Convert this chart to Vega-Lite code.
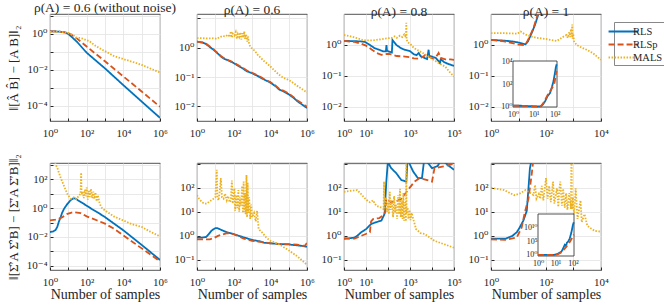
{
"$schema":"https://vega.github.io/schema/vega-lite/v6.json",
"padding":{"left":6,"top":0,"right":2,"bottom":2},
"background":"white",
"data":{"values":[
{"p":"1","m":"RLS","n":1,"v":1.4},{"p":"1","m":"RLS","n":2,"v":1.38},{"p":"1","m":"RLS","n":4,"v":1.32},{"p":"1","m":"RLS","n":7,"v":1.2},{"p":"1","m":"RLS","n":10,"v":1.0},{"p":"1","m":"RLS","n":15,"v":0.7},{"p":"1","m":"RLS","n":30,"v":0.36},{"p":"1","m":"RLS","n":100,"v":0.09},{"p":"1","m":"RLS","n":1000,"v":0.012},{"p":"1","m":"RLS","n":1e4,"v":0.0014},{"p":"1","m":"RLS","n":1e5,"v":0.00017},{"p":"1","m":"RLS","n":1e6,"v":0.000021},
{"p":"1","m":"RLSp","n":1,"v":1.4},{"p":"1","m":"RLSp","n":2,"v":1.38},{"p":"1","m":"RLSp","n":4,"v":1.32},{"p":"1","m":"RLSp","n":7,"v":1.22},{"p":"1","m":"RLSp","n":10,"v":1.1},{"p":"1","m":"RLSp","n":15,"v":0.9},{"p":"1","m":"RLSp","n":30,"v":0.55},{"p":"1","m":"RLSp","n":100,"v":0.2},{"p":"1","m":"RLSp","n":300,"v":0.08},{"p":"1","m":"RLSp","n":1000,"v":0.03},{"p":"1","m":"RLSp","n":1e4,"v":0.0043},{"p":"1","m":"RLSp","n":1e5,"v":0.00062},{"p":"1","m":"RLSp","n":1e6,"v":0.000087},
{"p":"1","m":"MALS","n":1,"v":1.3},{"p":"1","m":"MALS","n":2,"v":1.35},{"p":"1","m":"MALS","n":4,"v":1.3},{"p":"1","m":"MALS","n":7,"v":1.25},{"p":"1","m":"MALS","n":10,"v":1.15},{"p":"1","m":"MALS","n":15,"v":0.95},{"p":"1","m":"MALS","n":20,"v":0.8},{"p":"1","m":"MALS","n":25,"v":0.65},{"p":"1","m":"MALS","n":30,"v":0.62},{"p":"1","m":"MALS","n":45,"v":0.6},{"p":"1","m":"MALS","n":60,"v":0.55},{"p":"1","m":"MALS","n":100,"v":0.45},{"p":"1","m":"MALS","n":150,"v":0.38},{"p":"1","m":"MALS","n":200,"v":0.3},{"p":"1","m":"MALS","n":300,"v":0.22},{"p":"1","m":"MALS","n":500,"v":0.16},{"p":"1","m":"MALS","n":1000,"v":0.11},{"p":"1","m":"MALS","n":2000,"v":0.075},{"p":"1","m":"MALS","n":3000,"v":0.06},{"p":"1","m":"MALS","n":5000,"v":0.05},{"p":"1","m":"MALS","n":1e4,"v":0.04},{"p":"1","m":"MALS","n":2e4,"v":0.032},{"p":"1","m":"MALS","n":5e4,"v":0.024},{"p":"1","m":"MALS","n":1e5,"v":0.019},{"p":"1","m":"MALS","n":2e5,"v":0.014},{"p":"1","m":"MALS","n":5e5,"v":0.0095},{"p":"1","m":"MALS","n":1e6,"v":0.0072},

{"p":"2","m":"RLS","n":1,"v":1.6},{"p":"2","m":"RLS","n":2,"v":1.5},{"p":"2","m":"RLS","n":3,"v":1.35},{"p":"2","m":"RLS","n":5,"v":1.05},{"p":"2","m":"RLS","n":8,"v":0.85},{"p":"2","m":"RLS","n":10,"v":0.75},{"p":"2","m":"RLS","n":15,"v":0.6},{"p":"2","m":"RLS","n":20,"v":0.5},{"p":"2","m":"RLS","n":30,"v":0.42},{"p":"2","m":"RLS","n":50,"v":0.37},{"p":"2","m":"RLS","n":100,"v":0.3},{"p":"2","m":"RLS","n":200,"v":0.23},{"p":"2","m":"RLS","n":300,"v":0.2},{"p":"2","m":"RLS","n":500,"v":0.16},{"p":"2","m":"RLS","n":1000,"v":0.135},{"p":"2","m":"RLS","n":2000,"v":0.11},{"p":"2","m":"RLS","n":3000,"v":0.095},{"p":"2","m":"RLS","n":5000,"v":0.08},{"p":"2","m":"RLS","n":1e4,"v":0.065},{"p":"2","m":"RLS","n":2e4,"v":0.048},{"p":"2","m":"RLS","n":3e4,"v":0.038},{"p":"2","m":"RLS","n":5e4,"v":0.033},{"p":"2","m":"RLS","n":1e5,"v":0.026},{"p":"2","m":"RLS","n":2e5,"v":0.019},{"p":"2","m":"RLS","n":3e5,"v":0.015},{"p":"2","m":"RLS","n":5e5,"v":0.012},{"p":"2","m":"RLS","n":1e6,"v":0.0088},
{"p":"2","m":"RLSp","n":1,"v":1.6},{"p":"2","m":"RLSp","n":2,"v":1.5},{"p":"2","m":"RLSp","n":3,"v":1.4},{"p":"2","m":"RLSp","n":5,"v":1.1},{"p":"2","m":"RLSp","n":8,"v":0.88},{"p":"2","m":"RLSp","n":10,"v":0.78},{"p":"2","m":"RLSp","n":15,"v":0.62},{"p":"2","m":"RLSp","n":20,"v":0.52},{"p":"2","m":"RLSp","n":30,"v":0.44},{"p":"2","m":"RLSp","n":50,"v":0.38},{"p":"2","m":"RLSp","n":100,"v":0.31},{"p":"2","m":"RLSp","n":200,"v":0.24},{"p":"2","m":"RLSp","n":300,"v":0.21},{"p":"2","m":"RLSp","n":500,"v":0.17},{"p":"2","m":"RLSp","n":1000,"v":0.14},{"p":"2","m":"RLSp","n":2000,"v":0.115},{"p":"2","m":"RLSp","n":3000,"v":0.1},{"p":"2","m":"RLSp","n":5000,"v":0.083},{"p":"2","m":"RLSp","n":1e4,"v":0.068},{"p":"2","m":"RLSp","n":2e4,"v":0.05},{"p":"2","m":"RLSp","n":3e4,"v":0.04},{"p":"2","m":"RLSp","n":5e4,"v":0.035},{"p":"2","m":"RLSp","n":1e5,"v":0.028},{"p":"2","m":"RLSp","n":2e5,"v":0.02},{"p":"2","m":"RLSp","n":3e5,"v":0.016},{"p":"2","m":"RLSp","n":5e5,"v":0.013},{"p":"2","m":"RLSp","n":1e6,"v":0.0098},
{"p":"2","m":"MALS","n":1,"v":2.1},{"p":"2","m":"MALS","n":2,"v":2.1},{"p":"2","m":"MALS","n":4,"v":2.05},{"p":"2","m":"MALS","n":8,"v":2.1},{"p":"2","m":"MALS","n":12,"v":2.0},{"p":"2","m":"MALS","n":18,"v":2.3},{"p":"2","m":"MALS","n":25,"v":2.5},{"p":"2","m":"MALS","n":35,"v":2.4},{"p":"2","m":"MALS","n":50,"v":2.8},{"p":"2","m":"MALS","n":60,"v":2.3},{"p":"2","m":"MALS","n":70,"v":3.6},{"p":"2","m":"MALS","n":80,"v":2.2},{"p":"2","m":"MALS","n":90,"v":3.0},{"p":"2","m":"MALS","n":110,"v":2.6},{"p":"2","m":"MALS","n":130,"v":3.4},{"p":"2","m":"MALS","n":150,"v":2.0},{"p":"2","m":"MALS","n":170,"v":2.9},{"p":"2","m":"MALS","n":200,"v":2.3},{"p":"2","m":"MALS","n":230,"v":3.3},{"p":"2","m":"MALS","n":260,"v":1.9},{"p":"2","m":"MALS","n":300,"v":3.1},{"p":"2","m":"MALS","n":340,"v":2.2},{"p":"2","m":"MALS","n":380,"v":3.6},{"p":"2","m":"MALS","n":420,"v":2.0},{"p":"2","m":"MALS","n":480,"v":2.8},{"p":"2","m":"MALS","n":550,"v":1.6},{"p":"2","m":"MALS","n":600,"v":2.4},{"p":"2","m":"MALS","n":700,"v":1.3},{"p":"2","m":"MALS","n":800,"v":1.1},{"p":"2","m":"MALS","n":1000,"v":0.95},{"p":"2","m":"MALS","n":1500,"v":0.75},{"p":"2","m":"MALS","n":2000,"v":0.58},{"p":"2","m":"MALS","n":3000,"v":0.45},{"p":"2","m":"MALS","n":5000,"v":0.33},{"p":"2","m":"MALS","n":7000,"v":0.28},{"p":"2","m":"MALS","n":1e4,"v":0.23},{"p":"2","m":"MALS","n":2e4,"v":0.15},{"p":"2","m":"MALS","n":3e4,"v":0.12},{"p":"2","m":"MALS","n":5e4,"v":0.095},{"p":"2","m":"MALS","n":1e5,"v":0.08},{"p":"2","m":"MALS","n":2e5,"v":0.06},{"p":"2","m":"MALS","n":3e5,"v":0.05},{"p":"2","m":"MALS","n":5e5,"v":0.04},{"p":"2","m":"MALS","n":1e6,"v":0.03},

{"p":"3","m":"RLS","n":1,"v":1.35},{"p":"3","m":"RLS","n":3,"v":1.33},{"p":"3","m":"RLS","n":6,"v":1.3},{"p":"3","m":"RLS","n":9,"v":1.25},{"p":"3","m":"RLS","n":15,"v":1.0},{"p":"3","m":"RLS","n":25,"v":0.78},{"p":"3","m":"RLS","n":40,"v":0.7},{"p":"3","m":"RLS","n":60,"v":0.62},{"p":"3","m":"RLS","n":80,"v":0.62},{"p":"3","m":"RLS","n":85,"v":1.0},{"p":"3","m":"RLS","n":90,"v":0.65},{"p":"3","m":"RLS","n":120,"v":0.6},{"p":"3","m":"RLS","n":150,"v":0.57},{"p":"3","m":"RLS","n":160,"v":1.45},{"p":"3","m":"RLS","n":180,"v":1.3},{"p":"3","m":"RLS","n":240,"v":1.0},{"p":"3","m":"RLS","n":400,"v":0.78},{"p":"3","m":"RLS","n":600,"v":0.69},{"p":"3","m":"RLS","n":1000,"v":0.63},{"p":"3","m":"RLS","n":1500,"v":0.5},{"p":"3","m":"RLS","n":2000,"v":0.47},{"p":"3","m":"RLS","n":2500,"v":0.55},{"p":"3","m":"RLS","n":3000,"v":0.44},{"p":"3","m":"RLS","n":5000,"v":0.37},{"p":"3","m":"RLS","n":6000,"v":0.35},{"p":"3","m":"RLS","n":7000,"v":0.7},{"p":"3","m":"RLS","n":7500,"v":0.45},{"p":"3","m":"RLS","n":1e4,"v":0.42},{"p":"3","m":"RLS","n":1.5e4,"v":0.38},{"p":"3","m":"RLS","n":2e4,"v":0.3},{"p":"3","m":"RLS","n":2.3e4,"v":0.26},{"p":"3","m":"RLS","n":2.5e4,"v":0.35},{"p":"3","m":"RLS","n":3.5e4,"v":0.28},{"p":"3","m":"RLS","n":5e4,"v":0.25},{"p":"3","m":"RLS","n":1e5,"v":0.21},
{"p":"3","m":"RLSp","n":1,"v":1.35},{"p":"3","m":"RLSp","n":3,"v":1.25},{"p":"3","m":"RLSp","n":6,"v":1.1},{"p":"3","m":"RLSp","n":10,"v":0.95},{"p":"3","m":"RLSp","n":20,"v":0.68},{"p":"3","m":"RLSp","n":30,"v":0.55},{"p":"3","m":"RLSp","n":50,"v":0.48},{"p":"3","m":"RLSp","n":70,"v":0.5},{"p":"3","m":"RLSp","n":100,"v":0.52},{"p":"3","m":"RLSp","n":150,"v":0.49},{"p":"3","m":"RLSp","n":250,"v":0.44},{"p":"3","m":"RLSp","n":400,"v":0.43},{"p":"3","m":"RLSp","n":600,"v":0.42},{"p":"3","m":"RLSp","n":1000,"v":0.4},{"p":"3","m":"RLSp","n":1500,"v":0.37},{"p":"3","m":"RLSp","n":2500,"v":0.36},{"p":"3","m":"RLSp","n":4000,"v":0.42},{"p":"3","m":"RLSp","n":5000,"v":0.48},{"p":"3","m":"RLSp","n":7000,"v":0.43},{"p":"3","m":"RLSp","n":1e4,"v":0.37},{"p":"3","m":"RLSp","n":1.5e4,"v":0.4},{"p":"3","m":"RLSp","n":2e4,"v":0.55},{"p":"3","m":"RLSp","n":2.5e4,"v":0.38},{"p":"3","m":"RLSp","n":4e4,"v":0.34},{"p":"3","m":"RLSp","n":7e4,"v":0.34},{"p":"3","m":"RLSp","n":1e5,"v":0.33},
{"p":"3","m":"MALS","n":1,"v":2.1},{"p":"3","m":"MALS","n":2,"v":1.9},{"p":"3","m":"MALS","n":4,"v":1.65},{"p":"3","m":"MALS","n":7,"v":1.45},{"p":"3","m":"MALS","n":10,"v":1.4},{"p":"3","m":"MALS","n":20,"v":1.4},{"p":"3","m":"MALS","n":40,"v":1.5},{"p":"3","m":"MALS","n":70,"v":1.6},{"p":"3","m":"MALS","n":100,"v":1.65},{"p":"3","m":"MALS","n":150,"v":1.7},{"p":"3","m":"MALS","n":200,"v":1.9},{"p":"3","m":"MALS","n":250,"v":1.7},{"p":"3","m":"MALS","n":350,"v":2.0},{"p":"3","m":"MALS","n":450,"v":1.8},{"p":"3","m":"MALS","n":550,"v":2.2},{"p":"3","m":"MALS","n":650,"v":1.8},{"p":"3","m":"MALS","n":680,"v":5.2},{"p":"3","m":"MALS","n":700,"v":1.5},{"p":"3","m":"MALS","n":800,"v":1.2},{"p":"3","m":"MALS","n":1000,"v":1.1},{"p":"3","m":"MALS","n":1500,"v":0.8},{"p":"3","m":"MALS","n":2500,"v":0.65},{"p":"3","m":"MALS","n":4000,"v":0.54},{"p":"3","m":"MALS","n":7000,"v":0.42},{"p":"3","m":"MALS","n":1.2e4,"v":0.33},{"p":"3","m":"MALS","n":2e4,"v":0.26},{"p":"3","m":"MALS","n":4e4,"v":0.2},{"p":"3","m":"MALS","n":6e4,"v":0.14},{"p":"3","m":"MALS","n":1e5,"v":0.095},

{"p":"4","m":"RLS","n":1,"v":1.45},{"p":"4","m":"RLS","n":3,"v":1.38},{"p":"4","m":"RLS","n":6,"v":1.3},{"p":"4","m":"RLS","n":10,"v":1.2},{"p":"4","m":"RLS","n":15,"v":1.08},{"p":"4","m":"RLS","n":18,"v":1.05},{"p":"4","m":"RLS","n":22,"v":1.3},{"p":"4","m":"RLS","n":30,"v":2.4},{"p":"4","m":"RLS","n":40,"v":4.5},{"p":"4","m":"RLS","n":48,"v":7.5},{"p":"4","m":"RLS","n":60,"v":14},{"p":"4","m":"RLS","n":80,"v":40},{"p":"4","m":"RLS","n":100,"v":200},{"p":"4","m":"RLS","n":120,"v":2000},
{"p":"4","m":"RLSp","n":1,"v":1.45},{"p":"4","m":"RLSp","n":3,"v":1.3},{"p":"4","m":"RLSp","n":6,"v":1.15},{"p":"4","m":"RLSp","n":10,"v":1.02},{"p":"4","m":"RLSp","n":15,"v":1.0},{"p":"4","m":"RLSp","n":20,"v":1.2},{"p":"4","m":"RLSp","n":27,"v":2.1},{"p":"4","m":"RLSp","n":35,"v":3.5},{"p":"4","m":"RLSp","n":46,"v":7.7},{"p":"4","m":"RLSp","n":55,"v":12},{"p":"4","m":"RLSp","n":80,"v":50},{"p":"4","m":"RLSp","n":100,"v":150},{"p":"4","m":"RLSp","n":120,"v":700},
{"p":"4","m":"MALS","n":1,"v":2.4},{"p":"4","m":"MALS","n":3,"v":2.4},{"p":"4","m":"MALS","n":6,"v":2.35},{"p":"4","m":"MALS","n":9,"v":2.3},{"p":"4","m":"MALS","n":12,"v":2.7},{"p":"4","m":"MALS","n":16,"v":2.3},{"p":"4","m":"MALS","n":22,"v":2.0},{"p":"4","m":"MALS","n":30,"v":1.86},{"p":"4","m":"MALS","n":45,"v":1.7},{"p":"4","m":"MALS","n":70,"v":1.62},{"p":"4","m":"MALS","n":100,"v":1.56},{"p":"4","m":"MALS","n":150,"v":1.45},{"p":"4","m":"MALS","n":245,"v":1.35},{"p":"4","m":"MALS","n":300,"v":1.5},{"p":"4","m":"MALS","n":370,"v":1.7},{"p":"4","m":"MALS","n":450,"v":1.9},{"p":"4","m":"MALS","n":560,"v":2.1},{"p":"4","m":"MALS","n":620,"v":1.7},{"p":"4","m":"MALS","n":700,"v":2.6},{"p":"4","m":"MALS","n":760,"v":1.8},{"p":"4","m":"MALS","n":820,"v":3.3},{"p":"4","m":"MALS","n":860,"v":1.9},{"p":"4","m":"MALS","n":900,"v":4.6},{"p":"4","m":"MALS","n":930,"v":1.6},{"p":"4","m":"MALS","n":980,"v":2.3},{"p":"4","m":"MALS","n":1050,"v":1.3},{"p":"4","m":"MALS","n":1300,"v":1.0},{"p":"4","m":"MALS","n":2000,"v":0.82},{"p":"4","m":"MALS","n":3000,"v":0.7},{"p":"4","m":"MALS","n":5000,"v":0.55},{"p":"4","m":"MALS","n":1e4,"v":0.33},

{"p":"4i","m":"RLS","n":1,"v":1.2},{"p":"4i","m":"RLS","n":3,"v":1.15},{"p":"4i","m":"RLS","n":8,"v":1.05},{"p":"4i","m":"RLS","n":15,"v":1.0},{"p":"4i","m":"RLS","n":22,"v":1.05},{"p":"4i","m":"RLS","n":28,"v":1.6},{"p":"4i","m":"RLS","n":35,"v":3},{"p":"4i","m":"RLS","n":45,"v":8},{"p":"4i","m":"RLS","n":61,"v":17},{"p":"4i","m":"RLS","n":75,"v":60},{"p":"4i","m":"RLS","n":89,"v":200},{"p":"4i","m":"RLS","n":100,"v":700},{"p":"4i","m":"RLS","n":115,"v":3500},{"p":"4i","m":"RLS","n":125,"v":6000},
{"p":"4i","m":"RLSp","n":1,"v":1.2},{"p":"4i","m":"RLSp","n":3,"v":1.15},{"p":"4i","m":"RLSp","n":8,"v":1.05},{"p":"4i","m":"RLSp","n":15,"v":1.0},{"p":"4i","m":"RLSp","n":22,"v":1.1},{"p":"4i","m":"RLSp","n":28,"v":1.9},{"p":"4i","m":"RLSp","n":35,"v":4},{"p":"4i","m":"RLSp","n":45,"v":10},{"p":"4i","m":"RLSp","n":61,"v":24},{"p":"4i","m":"RLSp","n":75,"v":45},{"p":"4i","m":"RLSp","n":89,"v":70},{"p":"4i","m":"RLSp","n":100,"v":150},{"p":"4i","m":"RLSp","n":115,"v":800},{"p":"4i","m":"RLSp","n":125,"v":1500},

{"p":"5","m":"RLS","n":1,"v":0.022},{"p":"5","m":"RLS","n":1.5,"v":0.024},{"p":"5","m":"RLS","n":2,"v":0.03},{"p":"5","m":"RLS","n":2.5,"v":0.05},{"p":"5","m":"RLS","n":3,"v":0.11},{"p":"5","m":"RLS","n":3.8,"v":0.24},{"p":"5","m":"RLS","n":4.5,"v":0.45},{"p":"5","m":"RLS","n":5.8,"v":0.9},{"p":"5","m":"RLS","n":8.9,"v":2.0},{"p":"5","m":"RLS","n":13.5,"v":3.7},{"p":"5","m":"RLS","n":20,"v":4.9},{"p":"5","m":"RLS","n":25,"v":4.6},{"p":"5","m":"RLS","n":32,"v":3.7},{"p":"5","m":"RLS","n":50,"v":2.6},{"p":"5","m":"RLS","n":100,"v":1.5},{"p":"5","m":"RLS","n":200,"v":0.85},{"p":"5","m":"RLS","n":380,"v":0.53},{"p":"5","m":"RLS","n":1000,"v":0.24},{"p":"5","m":"RLS","n":1e4,"v":0.029},{"p":"5","m":"RLS","n":1e5,"v":0.0028},{"p":"5","m":"RLS","n":1e6,"v":0.00025},
{"p":"5","m":"RLSp","n":1,"v":0.14},{"p":"5","m":"RLSp","n":2,"v":0.16},{"p":"5","m":"RLSp","n":3,"v":0.18},{"p":"5","m":"RLSp","n":5,"v":0.25},{"p":"5","m":"RLSp","n":9,"v":0.41},{"p":"5","m":"RLSp","n":15,"v":0.5},{"p":"5","m":"RLSp","n":20,"v":0.53},{"p":"5","m":"RLSp","n":30,"v":0.5},{"p":"5","m":"RLSp","n":47,"v":0.45},{"p":"5","m":"RLSp","n":100,"v":0.27},{"p":"5","m":"RLSp","n":380,"v":0.14},{"p":"5","m":"RLSp","n":1000,"v":0.084},{"p":"5","m":"RLSp","n":3000,"v":0.038},{"p":"5","m":"RLSp","n":1e4,"v":0.013},{"p":"5","m":"RLSp","n":1e5,"v":0.0016},{"p":"5","m":"RLSp","n":1e6,"v":0.0002},
{"p":"5","m":"MALS","n":1.9,"v":1500},{"p":"5","m":"MALS","n":2.1,"v":1000},{"p":"5","m":"MALS","n":2.5,"v":650},{"p":"5","m":"MALS","n":3.8,"v":134},{"p":"5","m":"MALS","n":5.8,"v":36},{"p":"5","m":"MALS","n":8.9,"v":9.6},{"p":"5","m":"MALS","n":13.5,"v":4.4},{"p":"5","m":"MALS","n":20,"v":5.7},{"p":"5","m":"MALS","n":27,"v":4.4},{"p":"5","m":"MALS","n":40,"v":8},{"p":"5","m":"MALS","n":46,"v":10},{"p":"5","m":"MALS","n":50,"v":300},{"p":"5","m":"MALS","n":53,"v":9},{"p":"5","m":"MALS","n":60,"v":14},{"p":"5","m":"MALS","n":70,"v":5},{"p":"5","m":"MALS","n":80,"v":20},{"p":"5","m":"MALS","n":90,"v":7},{"p":"5","m":"MALS","n":100,"v":28},{"p":"5","m":"MALS","n":115,"v":4},{"p":"5","m":"MALS","n":130,"v":16},{"p":"5","m":"MALS","n":150,"v":6},{"p":"5","m":"MALS","n":170,"v":22},{"p":"5","m":"MALS","n":200,"v":5},{"p":"5","m":"MALS","n":230,"v":14},{"p":"5","m":"MALS","n":260,"v":4.5},{"p":"5","m":"MALS","n":300,"v":12.5},{"p":"5","m":"MALS","n":350,"v":3},{"p":"5","m":"MALS","n":400,"v":8},{"p":"5","m":"MALS","n":500,"v":2.5},{"p":"5","m":"MALS","n":575,"v":1.5},{"p":"5","m":"MALS","n":700,"v":1.0},{"p":"5","m":"MALS","n":1000,"v":0.7},{"p":"5","m":"MALS","n":3000,"v":0.27},{"p":"5","m":"MALS","n":1e4,"v":0.14},{"p":"5","m":"MALS","n":3e4,"v":0.076},{"p":"5","m":"MALS","n":1e5,"v":0.05},{"p":"5","m":"MALS","n":3e5,"v":0.023},{"p":"5","m":"MALS","n":1e6,"v":0.011},

{"p":"6","m":"RLS","n":1,"v":0.85},{"p":"6","m":"RLS","n":2,"v":0.85},{"p":"6","m":"RLS","n":3.2,"v":0.9},{"p":"6","m":"RLS","n":4.4,"v":1.18},{"p":"6","m":"RLS","n":6,"v":1.6},{"p":"6","m":"RLS","n":8,"v":1.9},{"p":"6","m":"RLS","n":10,"v":2.1},{"p":"6","m":"RLS","n":13,"v":2.1},{"p":"6","m":"RLS","n":20,"v":1.8},{"p":"6","m":"RLS","n":28,"v":1.6},{"p":"6","m":"RLS","n":50,"v":1.35},{"p":"6","m":"RLS","n":100,"v":1.18},{"p":"6","m":"RLS","n":300,"v":0.9},{"p":"6","m":"RLS","n":1000,"v":0.68},{"p":"6","m":"RLS","n":3000,"v":0.58},{"p":"6","m":"RLS","n":4400,"v":0.52},{"p":"6","m":"RLS","n":1e4,"v":0.49},{"p":"6","m":"RLS","n":3e4,"v":0.46},{"p":"6","m":"RLS","n":1e5,"v":0.44},{"p":"6","m":"RLS","n":3e5,"v":0.4},{"p":"6","m":"RLS","n":6e5,"v":0.38},{"p":"6","m":"RLS","n":1e6,"v":0.35},
{"p":"6","m":"RLSp","n":1,"v":0.72},{"p":"6","m":"RLSp","n":2,"v":0.72},{"p":"6","m":"RLSp","n":5,"v":0.72},{"p":"6","m":"RLSp","n":8,"v":0.8},{"p":"6","m":"RLSp","n":14,"v":1.0},{"p":"6","m":"RLSp","n":25,"v":1.15},{"p":"6","m":"RLSp","n":44,"v":1.3},{"p":"6","m":"RLSp","n":100,"v":1.18},{"p":"6","m":"RLSp","n":350,"v":0.77},{"p":"6","m":"RLSp","n":1000,"v":0.62},{"p":"6","m":"RLSp","n":3000,"v":0.56},{"p":"6","m":"RLSp","n":1e4,"v":0.49},{"p":"6","m":"RLSp","n":3e4,"v":0.46},{"p":"6","m":"RLSp","n":1e5,"v":0.45},{"p":"6","m":"RLSp","n":3e5,"v":0.43},{"p":"6","m":"RLSp","n":6e5,"v":0.38},{"p":"6","m":"RLSp","n":8e5,"v":0.4},{"p":"6","m":"RLSp","n":1e6,"v":0.52},
{"p":"6","m":"MALS","n":1,"v":49},{"p":"6","m":"MALS","n":1.3,"v":35},{"p":"6","m":"MALS","n":1.8,"v":26},{"p":"6","m":"MALS","n":2.5,"v":22},{"p":"6","m":"MALS","n":3.5,"v":22},{"p":"6","m":"MALS","n":4.5,"v":26},{"p":"6","m":"MALS","n":6,"v":30},{"p":"6","m":"MALS","n":8,"v":35},{"p":"6","m":"MALS","n":10,"v":40},{"p":"6","m":"MALS","n":12,"v":560},{"p":"6","m":"MALS","n":13,"v":40},{"p":"6","m":"MALS","n":15,"v":30},{"p":"6","m":"MALS","n":17,"v":60},{"p":"6","m":"MALS","n":20,"v":250},{"p":"6","m":"MALS","n":23,"v":40},{"p":"6","m":"MALS","n":28,"v":35},{"p":"6","m":"MALS","n":34,"v":57},{"p":"6","m":"MALS","n":42,"v":30},{"p":"6","m":"MALS","n":50,"v":45},{"p":"6","m":"MALS","n":60,"v":25},{"p":"6","m":"MALS","n":70,"v":30},{"p":"6","m":"MALS","n":80,"v":200},{"p":"6","m":"MALS","n":88,"v":22},{"p":"6","m":"MALS","n":100,"v":40},{"p":"6","m":"MALS","n":110,"v":94},{"p":"6","m":"MALS","n":120,"v":11},{"p":"6","m":"MALS","n":140,"v":50},{"p":"6","m":"MALS","n":160,"v":14},{"p":"6","m":"MALS","n":180,"v":80},{"p":"6","m":"MALS","n":200,"v":10},{"p":"6","m":"MALS","n":220,"v":40},{"p":"6","m":"MALS","n":250,"v":18},{"p":"6","m":"MALS","n":290,"v":120},{"p":"6","m":"MALS","n":320,"v":9},{"p":"6","m":"MALS","n":350,"v":180},{"p":"6","m":"MALS","n":380,"v":10},{"p":"6","m":"MALS","n":420,"v":60},{"p":"6","m":"MALS","n":450,"v":8},{"p":"6","m":"MALS","n":500,"v":340},{"p":"6","m":"MALS","n":540,"v":6},{"p":"6","m":"MALS","n":580,"v":160},{"p":"6","m":"MALS","n":630,"v":9},{"p":"6","m":"MALS","n":700,"v":40},{"p":"6","m":"MALS","n":800,"v":5},{"p":"6","m":"MALS","n":900,"v":20},{"p":"6","m":"MALS","n":1000,"v":6},{"p":"6","m":"MALS","n":1300,"v":9},{"p":"6","m":"MALS","n":1600,"v":4},{"p":"6","m":"MALS","n":1900,"v":11},{"p":"6","m":"MALS","n":2300,"v":1.9},{"p":"6","m":"MALS","n":3500,"v":1.4},{"p":"6","m":"MALS","n":6000,"v":0.85},{"p":"6","m":"MALS","n":1e4,"v":0.62},{"p":"6","m":"MALS","n":3e4,"v":0.45},{"p":"6","m":"MALS","n":1e5,"v":0.25},{"p":"6","m":"MALS","n":3e5,"v":0.14},{"p":"6","m":"MALS","n":1e6,"v":0.063},

{"p":"7","m":"RLS","n":1,"v":0.77},{"p":"7","m":"RLS","n":2,"v":0.8},{"p":"7","m":"RLS","n":3,"v":0.85},{"p":"7","m":"RLS","n":4,"v":1.0},{"p":"7","m":"RLS","n":6,"v":1.4},{"p":"7","m":"RLS","n":10,"v":1.9},{"p":"7","m":"RLS","n":17,"v":3.1},{"p":"7","m":"RLS","n":29,"v":3.7},{"p":"7","m":"RLS","n":50,"v":4.3},{"p":"7","m":"RLS","n":70,"v":8.2},{"p":"7","m":"RLS","n":84,"v":180},{"p":"7","m":"RLS","n":100,"v":1500},{"p":"7","m":"RLS","n":115,"v":900},{"p":"7","m":"RLS","n":140,"v":650},{"p":"7","m":"RLS","n":240,"v":400},{"p":"7","m":"RLS","n":400,"v":210},{"p":"7","m":"RLS","n":680,"v":180},{"p":"7","m":"RLS","n":800,"v":2500},{"p":"7","m":"RLS","n":1000,"v":900},{"p":"7","m":"RLS","n":1400,"v":470},{"p":"7","m":"RLS","n":2300,"v":250},{"p":"7","m":"RLS","n":3500,"v":250},{"p":"7","m":"RLS","n":4600,"v":2000},{"p":"7","m":"RLS","n":6000,"v":1200},{"p":"7","m":"RLS","n":1e4,"v":650},{"p":"7","m":"RLS","n":1.8e4,"v":800},{"p":"7","m":"RLS","n":3.2e4,"v":2000},{"p":"7","m":"RLS","n":4e4,"v":1100},{"p":"7","m":"RLS","n":6e4,"v":800},{"p":"7","m":"RLS","n":1e5,"v":560},
{"p":"7","m":"RLSp","n":1,"v":0.77},{"p":"7","m":"RLSp","n":3,"v":0.77},{"p":"7","m":"RLSp","n":6,"v":1.0},{"p":"7","m":"RLSp","n":15,"v":1.4},{"p":"7","m":"RLSp","n":17,"v":4},{"p":"7","m":"RLSp","n":21,"v":5},{"p":"7","m":"RLSp","n":40,"v":5.5},{"p":"7","m":"RLSp","n":60,"v":7},{"p":"7","m":"RLSp","n":75,"v":10},{"p":"7","m":"RLSp","n":84,"v":35},{"p":"7","m":"RLSp","n":140,"v":25},{"p":"7","m":"RLSp","n":250,"v":28},{"p":"7","m":"RLSp","n":400,"v":35},{"p":"7","m":"RLSp","n":800,"v":80},{"p":"7","m":"RLSp","n":1600,"v":180},{"p":"7","m":"RLSp","n":2700,"v":250},{"p":"7","m":"RLSp","n":5000,"v":220},{"p":"7","m":"RLSp","n":1e4,"v":180},{"p":"7","m":"RLSp","n":1.3e4,"v":650},{"p":"7","m":"RLSp","n":2e4,"v":700},{"p":"7","m":"RLSp","n":4e4,"v":800},{"p":"7","m":"RLSp","n":1e5,"v":1000},
{"p":"7","m":"MALS","n":1,"v":68},{"p":"7","m":"MALS","n":2,"v":75},{"p":"7","m":"MALS","n":4,"v":80},{"p":"7","m":"MALS","n":6,"v":55},{"p":"7","m":"MALS","n":8,"v":40},{"p":"7","m":"MALS","n":12,"v":28},{"p":"7","m":"MALS","n":15,"v":25},{"p":"7","m":"MALS","n":21,"v":30},{"p":"7","m":"MALS","n":25,"v":22},{"p":"7","m":"MALS","n":29,"v":18},{"p":"7","m":"MALS","n":40,"v":16},{"p":"7","m":"MALS","n":50,"v":15},{"p":"7","m":"MALS","n":63,"v":13},{"p":"7","m":"MALS","n":66,"v":180},{"p":"7","m":"MALS","n":68,"v":13},{"p":"7","m":"MALS","n":80,"v":40},{"p":"7","m":"MALS","n":90,"v":10},{"p":"7","m":"MALS","n":100,"v":25},{"p":"7","m":"MALS","n":110,"v":8},{"p":"7","m":"MALS","n":120,"v":68},{"p":"7","m":"MALS","n":130,"v":12},{"p":"7","m":"MALS","n":150,"v":30},{"p":"7","m":"MALS","n":170,"v":6},{"p":"7","m":"MALS","n":190,"v":45},{"p":"7","m":"MALS","n":210,"v":9},{"p":"7","m":"MALS","n":230,"v":20},{"p":"7","m":"MALS","n":260,"v":5},{"p":"7","m":"MALS","n":290,"v":50},{"p":"7","m":"MALS","n":320,"v":8},{"p":"7","m":"MALS","n":350,"v":90},{"p":"7","m":"MALS","n":380,"v":6},{"p":"7","m":"MALS","n":420,"v":30},{"p":"7","m":"MALS","n":460,"v":5},{"p":"7","m":"MALS","n":500,"v":60},{"p":"7","m":"MALS","n":540,"v":4.3},{"p":"7","m":"MALS","n":600,"v":25},{"p":"7","m":"MALS","n":650,"v":4},{"p":"7","m":"MALS","n":680,"v":1500},{"p":"7","m":"MALS","n":700,"v":8},{"p":"7","m":"MALS","n":780,"v":15},{"p":"7","m":"MALS","n":850,"v":5},{"p":"7","m":"MALS","n":950,"v":12},{"p":"7","m":"MALS","n":1050,"v":4.5},{"p":"7","m":"MALS","n":1200,"v":9},{"p":"7","m":"MALS","n":1400,"v":5},{"p":"7","m":"MALS","n":1900,"v":1.9},{"p":"7","m":"MALS","n":3000,"v":1.3},{"p":"7","m":"MALS","n":4600,"v":1.2},{"p":"7","m":"MALS","n":1.3e4,"v":0.62},{"p":"7","m":"MALS","n":3.8e4,"v":0.44},{"p":"7","m":"MALS","n":1e5,"v":0.32},

{"p":"8","m":"RLS","n":1,"v":0.77},{"p":"8","m":"RLS","n":2,"v":0.76},{"p":"8","m":"RLS","n":3.5,"v":0.77},{"p":"8","m":"RLS","n":6,"v":1.0},{"p":"8","m":"RLS","n":8.6,"v":1.4},{"p":"8","m":"RLS","n":11,"v":2.2},{"p":"8","m":"RLS","n":15,"v":4.3},{"p":"8","m":"RLS","n":20,"v":11},{"p":"8","m":"RLS","n":23,"v":94},{"p":"8","m":"RLS","n":26,"v":650},{"p":"8","m":"RLS","n":30,"v":1500},
{"p":"8","m":"RLSp","n":1,"v":0.72},{"p":"8","m":"RLSp","n":3.3,"v":0.68},{"p":"8","m":"RLSp","n":8.6,"v":0.85},{"p":"8","m":"RLSp","n":13,"v":2.2},{"p":"8","m":"RLSp","n":17,"v":9.6},{"p":"8","m":"RLSp","n":23,"v":35},{"p":"8","m":"RLSp","n":30,"v":340},{"p":"8","m":"RLSp","n":33,"v":900},{"p":"8","m":"RLSp","n":35,"v":1500},
{"p":"8","m":"MALS","n":1,"v":100},{"p":"8","m":"MALS","n":3,"v":80},{"p":"8","m":"MALS","n":7,"v":49},{"p":"8","m":"MALS","n":11,"v":57},{"p":"8","m":"MALS","n":18,"v":80},{"p":"8","m":"MALS","n":23,"v":68},{"p":"8","m":"MALS","n":35,"v":50},{"p":"8","m":"MALS","n":40,"v":130},{"p":"8","m":"MALS","n":45,"v":35},{"p":"8","m":"MALS","n":55,"v":55},{"p":"8","m":"MALS","n":62,"v":35},{"p":"8","m":"MALS","n":70,"v":120},{"p":"8","m":"MALS","n":80,"v":30},{"p":"8","m":"MALS","n":90,"v":90},{"p":"8","m":"MALS","n":100,"v":250},{"p":"8","m":"MALS","n":115,"v":35},{"p":"8","m":"MALS","n":130,"v":120},{"p":"8","m":"MALS","n":150,"v":25},{"p":"8","m":"MALS","n":180,"v":180},{"p":"8","m":"MALS","n":200,"v":22},{"p":"8","m":"MALS","n":250,"v":94},{"p":"8","m":"MALS","n":280,"v":16},{"p":"8","m":"MALS","n":300,"v":70},{"p":"8","m":"MALS","n":330,"v":180},{"p":"8","m":"MALS","n":380,"v":18},{"p":"8","m":"MALS","n":420,"v":90},{"p":"8","m":"MALS","n":480,"v":15},{"p":"8","m":"MALS","n":540,"v":60},{"p":"8","m":"MALS","n":600,"v":12},{"p":"8","m":"MALS","n":700,"v":60},{"p":"8","m":"MALS","n":800,"v":13},{"p":"8","m":"MALS","n":850,"v":5000},{"p":"8","m":"MALS","n":880,"v":13},{"p":"8","m":"MALS","n":950,"v":40},{"p":"8","m":"MALS","n":1050,"v":8},{"p":"8","m":"MALS","n":1200,"v":94},{"p":"8","m":"MALS","n":1400,"v":5},{"p":"8","m":"MALS","n":1800,"v":30},{"p":"8","m":"MALS","n":2000,"v":3.7},{"p":"8","m":"MALS","n":2500,"v":8},{"p":"8","m":"MALS","n":3200,"v":2.6},{"p":"8","m":"MALS","n":4400,"v":2.0},{"p":"8","m":"MALS","n":6000,"v":1.6},{"p":"8","m":"MALS","n":1e4,"v":1.5},

{"p":"8i","m":"RLS","n":1,"v":1.0},{"p":"8i","m":"RLS","n":3,"v":1.0},{"p":"8i","m":"RLS","n":8,"v":1.1},{"p":"8i","m":"RLS","n":13,"v":2},{"p":"8i","m":"RLS","n":18,"v":8},{"p":"8i","m":"RLS","n":22,"v":16},{"p":"8i","m":"RLS","n":28,"v":300},{"p":"8i","m":"RLS","n":34,"v":5000},{"p":"8i","m":"RLS","n":40,"v":2000},{"p":"8i","m":"RLS","n":45,"v":3e4},{"p":"8i","m":"RLS","n":55,"v":1e5},{"p":"8i","m":"RLS","n":65,"v":1e6},{"p":"8i","m":"RLS","n":80,"v":1e8},{"p":"8i","m":"RLS","n":100,"v":1e11},{"p":"8i","m":"RLS","n":112,"v":1e12},
{"p":"8i","m":"RLSp","n":1,"v":1.0},{"p":"8i","m":"RLSp","n":3,"v":1.0},{"p":"8i","m":"RLSp","n":8,"v":1.05},{"p":"8i","m":"RLSp","n":13,"v":1.5},{"p":"8i","m":"RLSp","n":18,"v":4},{"p":"8i","m":"RLSp","n":22,"v":10},{"p":"8i","m":"RLSp","n":30,"v":80},{"p":"8i","m":"RLSp","n":40,"v":700},{"p":"8i","m":"RLSp","n":55,"v":1e4},{"p":"8i","m":"RLSp","n":70,"v":1e5},{"p":"8i","m":"RLSp","n":85,"v":1e6},{"p":"8i","m":"RLSp","n":100,"v":1e7},{"p":"8i","m":"RLSp","n":112,"v":3e7}
]},
"columns":4,
"spacing":{"row":42,"column":37},
"bounds":"flush",
"resolve":{"scale":{"x":"independent","y":"independent"}},
"concat":[
{"width":110,"height":107,"title":{"text":"ρ(A) = 0.6 (without noise)"},
 "transform":[{"filter":"datum.p=='1'"}],"mark":{"type":"line","clip":true},
 "encoding":{
  "x":{"field":"n","type":"quantitative","scale":{"type":"log","domain":[1,1e6],"nice":false},"axis":{"title":null,"values":[1,10,100,1000,1e4,1e5,1e6],"labelExpr":"round(log(datum.value)/LN10) % 2 == 0 ? '10' + (datum.value < 0.5 ? '⁻' : '') + ['⁰','¹','²','³','⁴','⁵','⁶','⁷','⁸','⁹','¹⁰'][abs(round(log(datum.value)/LN10))] : ''"}},
  "y":{"field":"v","type":"quantitative","scale":{"type":"log","domain":[0.000014,13],"nice":false},"axis":{"title":"‖[Â B̂] − [A B]‖₂","values":[0.0001,0.001,0.01,0.1,1,10],"labelExpr":"round(log(datum.value)/LN10) % 2 == 0 ? '10' + (datum.value < 0.5 ? '⁻' : '') + ['⁰','¹','²','³','⁴','⁵','⁶','⁷','⁸','⁹','¹⁰'][abs(round(log(datum.value)/LN10))] : ''"}},
  "color":{"field":"m","type":"nominal","scale":{"domain":["RLS","RLSp","MALS"],"range":["#0072BD","#D95319","#EDB120"]},"legend":{"title":null}},
  "strokeDash":{"field":"m","type":"nominal","scale":{"domain":["RLS","RLSp","MALS"],"range":[[1,0],[6,3],[1.5,1.5]]},"legend":{"title":null}},
  "strokeWidth":{"field":"m","type":"ordinal","scale":{"domain":["RLS","RLSp","MALS"],"range":[1.8,1.8,1.4]},"legend":null}}},
{"width":110,"height":107,"title":{"text":"ρ(A) = 0.6"},
 "transform":[{"filter":"datum.p=='2'"}],"mark":{"type":"line","clip":true},
 "encoding":{
  "x":{"field":"n","type":"quantitative","scale":{"type":"log","domain":[1,1e6],"nice":false},"axis":{"title":null,"values":[1,10,100,1000,1e4,1e5,1e6],"labelExpr":"round(log(datum.value)/LN10) % 2 == 0 ? '10' + (datum.value < 0.5 ? '⁻' : '') + ['⁰','¹','²','³','⁴','⁵','⁶','⁷','⁸','⁹','¹⁰'][abs(round(log(datum.value)/LN10))] : ''"}},
  "y":{"field":"v","type":"quantitative","scale":{"type":"log","domain":[0.0032,14],"nice":false},"axis":{"title":null,"values":[0.01,0.1,1,10],"labelExpr":"datum.value < 2 ? '10' + (datum.value < 0.5 ? '⁻' : '') + ['⁰','¹','²','³','⁴','⁵','⁶','⁷','⁸','⁹','¹⁰'][abs(round(log(datum.value)/LN10))] : ''"}},
  "color":{"field":"m","type":"nominal","scale":{"domain":["RLS","RLSp","MALS"],"range":["#0072BD","#D95319","#EDB120"]},"legend":{"title":null}},
  "strokeDash":{"field":"m","type":"nominal","scale":{"domain":["RLS","RLSp","MALS"],"range":[[1,0],[6,3],[1.5,1.5]]},"legend":{"title":null}},
  "strokeWidth":{"field":"m","type":"ordinal","scale":{"domain":["RLS","RLSp","MALS"],"range":[1.8,1.8,1.4]},"legend":null}}},
{"width":110,"height":107,"title":{"text":"ρ(A) = 0.8"},
 "transform":[{"filter":"datum.p=='3'"}],"mark":{"type":"line","clip":true},
 "encoding":{
  "x":{"field":"n","type":"quantitative","scale":{"type":"log","domain":[1,1e5],"nice":false},"axis":{"title":null,"values":[1,10,100,1000,1e4,1e5],"labelExpr":"indexof([0,1,3,5], round(log(datum.value)/LN10)) >= 0 ? '10' + ['⁰','¹','²','³','⁴','⁵','⁶','⁷','⁸','⁹','¹⁰'][abs(round(log(datum.value)/LN10))] : ''"}},
  "y":{"field":"v","type":"quantitative","scale":{"type":"log","domain":[0.0035,10],"nice":false},"axis":{"title":null,"values":[0.01,0.1,1],"labelExpr":"'10' + (datum.value < 0.5 ? '⁻' : '') + ['⁰','¹','²','³','⁴','⁵','⁶','⁷','⁸','⁹','¹⁰'][abs(round(log(datum.value)/LN10))]"}},
  "color":{"field":"m","type":"nominal","scale":{"domain":["RLS","RLSp","MALS"],"range":["#0072BD","#D95319","#EDB120"]},"legend":{"title":null}},
  "strokeDash":{"field":"m","type":"nominal","scale":{"domain":["RLS","RLSp","MALS"],"range":[[1,0],[6,3],[1.5,1.5]]},"legend":{"title":null}},
  "strokeWidth":{"field":"m","type":"ordinal","scale":{"domain":["RLS","RLSp","MALS"],"range":[1.8,1.8,1.4]},"legend":null}}},
{"width":110,"height":107,"title":{"text":"ρ(A) = 1"},
 "layer":[
  {"transform":[{"filter":"datum.p=='4'"}],"mark":{"type":"line","clip":true},
   "encoding":{
    "x":{"field":"n","type":"quantitative","scale":{"type":"log","domain":[1,1e4],"nice":false},"axis":{"title":null,"values":[1,10,100,1000,1e4],"labelExpr":"round(log(datum.value)/LN10) % 2 == 0 ? '10' + ['⁰','¹','²','³','⁴','⁵','⁶','⁷','⁸','⁹','¹⁰'][abs(round(log(datum.value)/LN10))] : ''"}},
    "y":{"field":"v","type":"quantitative","scale":{"type":"log","domain":[0.0035,10],"nice":false},"axis":{"title":null,"values":[0.01,0.1,1],"labelExpr":"'10' + (datum.value < 0.5 ? '⁻' : '') + ['⁰','¹','²','³','⁴','⁵','⁶','⁷','⁸','⁹','¹⁰'][abs(round(log(datum.value)/LN10))]"}},
    "color":{"field":"m","type":"nominal","scale":{"domain":["RLS","RLSp","MALS"],"range":["#0072BD","#D95319","#EDB120"]},"legend":{"title":null}},
    "strokeDash":{"field":"m","type":"nominal","scale":{"domain":["RLS","RLSp","MALS"],"range":[[1,0],[6,3],[1.5,1.5]]},"legend":{"title":null}},
    "strokeWidth":{"field":"m","type":"ordinal","scale":{"domain":["RLS","RLSp","MALS"],"range":[1.8,1.8,1.4]},"legend":null}}},
  {"layer":[
    {"data":{"values":[{}]},"mark":{"type":"rect","fill":"white","stroke":"#262626","strokeWidth":0.8},
     "encoding":{
      "x":{"datum":1,"type":"quantitative","scale":{"type":"log","domain":[1,130],"nice":false,"range":[22,66]},"axis":{"orient":"bottom","offset":-14,"title":null,"values":[1,10,100],"grid":false,"ticks":false,"labelFontSize":8,"labelPadding":3,"labelExpr":"'10' + ['⁰','¹','²','³','⁴','⁵','⁶','⁷','⁸','⁹','¹⁰'][abs(round(log(datum.value)/LN10))]"}},
      "x2":{"datum":130},
      "y":{"datum":0.9,"type":"quantitative","scale":{"type":"log","domain":[0.9,12000],"nice":false,"range":[93,47]},"axis":{"orient":"left","offset":-22,"title":null,"values":[1,100,10000],"grid":false,"ticks":false,"labelFontSize":8,"labelPadding":1,"labelExpr":"'10' + ['⁰','¹','²','³','⁴','⁵','⁶','⁷','⁸','⁹','¹⁰'][abs(round(log(datum.value)/LN10))]"}},
      "y2":{"datum":12000}}},
    {"transform":[{"filter":"datum.p=='4i'"}],"mark":{"type":"line","clip":true},
     "encoding":{
      "x":{"field":"n","type":"quantitative","scale":{"type":"log","domain":[1,130],"nice":false,"range":[22,66]},"axis":{"orient":"bottom","offset":-14,"title":null,"values":[1,10,100],"grid":false,"ticks":false,"labelFontSize":8,"labelPadding":3,"labelExpr":"'10' + ['⁰','¹','²','³','⁴','⁵','⁶','⁷','⁸','⁹','¹⁰'][abs(round(log(datum.value)/LN10))]"}},
      "y":{"field":"v","type":"quantitative","scale":{"type":"log","domain":[0.9,12000],"nice":false,"range":[93,47]},"axis":{"orient":"left","offset":-22,"title":null,"values":[1,100,10000],"grid":false,"ticks":false,"labelFontSize":8,"labelPadding":1,"labelExpr":"'10' + ['⁰','¹','²','³','⁴','⁵','⁶','⁷','⁸','⁹','¹⁰'][abs(round(log(datum.value)/LN10))]"}},
      "color":{"field":"m","type":"nominal","scale":{"domain":["RLS","RLSp","MALS"],"range":["#0072BD","#D95319","#EDB120"]},"legend":{"title":null}},
      "strokeDash":{"field":"m","type":"nominal","scale":{"domain":["RLS","RLSp","MALS"],"range":[[1,0],[6,3],[1.5,1.5]]},"legend":{"title":null}},
      "strokeWidth":{"field":"m","type":"ordinal","scale":{"domain":["RLS","RLSp","MALS"],"range":[1.8,1.8,1.4]},"legend":null}}}
  ]}
 ],
 "resolve":{"scale":{"x":"independent","y":"independent"},"axis":{"x":"independent","y":"independent"}}},
{"width":110,"height":107,
 "transform":[{"filter":"datum.p=='5'"}],"mark":{"type":"line","clip":true},
 "encoding":{
  "x":{"field":"n","type":"quantitative","scale":{"type":"log","domain":[1,1e6],"nice":false},"axis":{"title":"Number of samples","values":[1,10,100,1000,1e4,1e5,1e6],"labelExpr":"round(log(datum.value)/LN10) % 2 == 0 ? '10' + ['⁰','¹','²','³','⁴','⁵','⁶','⁷','⁸','⁹','¹⁰'][abs(round(log(datum.value)/LN10))] : ''"}},
  "y":{"field":"v","type":"quantitative","scale":{"type":"log","domain":[0.00005,1400],"nice":false},"axis":{"title":"‖[Σ̂′A Σ̂′B] − [Σ̄′A Σ̄′B]‖₂","values":[0.0001,0.001,0.01,0.1,1,10,100,1000],"labelExpr":"round(log(datum.value)/LN10) % 2 == 0 ? '10' + (datum.value < 0.5 ? '⁻' : '') + ['⁰','¹','²','³','⁴','⁵','⁶','⁷','⁸','⁹','¹⁰'][abs(round(log(datum.value)/LN10))] : ''"}},
  "color":{"field":"m","type":"nominal","scale":{"domain":["RLS","RLSp","MALS"],"range":["#0072BD","#D95319","#EDB120"]},"legend":{"title":null}},
  "strokeDash":{"field":"m","type":"nominal","scale":{"domain":["RLS","RLSp","MALS"],"range":[[1,0],[6,3],[1.5,1.5]]},"legend":{"title":null}},
  "strokeWidth":{"field":"m","type":"ordinal","scale":{"domain":["RLS","RLSp","MALS"],"range":[1.8,1.8,1.4]},"legend":null}}},
{"width":110,"height":107,
 "transform":[{"filter":"datum.p=='6'"}],"mark":{"type":"line","clip":true},
 "encoding":{
  "x":{"field":"n","type":"quantitative","scale":{"type":"log","domain":[1,1e6],"nice":false},"axis":{"title":"Number of samples","values":[1,10,100,1000,1e4,1e5,1e6],"labelExpr":"round(log(datum.value)/LN10) % 2 == 0 ? '10' + ['⁰','¹','²','³','⁴','⁵','⁶','⁷','⁸','⁹','¹⁰'][abs(round(log(datum.value)/LN10))] : ''"}},
  "y":{"field":"v","type":"quantitative","scale":{"type":"log","domain":[0.038,1070],"nice":false},"axis":{"title":null,"values":[0.1,1,10,100,1000],"labelExpr":"datum.value < 200 ? '10' + (datum.value < 0.5 ? '⁻' : '') + ['⁰','¹','²','³','⁴','⁵','⁶','⁷','⁸','⁹','¹⁰'][abs(round(log(datum.value)/LN10))] : ''"}},
  "color":{"field":"m","type":"nominal","scale":{"domain":["RLS","RLSp","MALS"],"range":["#0072BD","#D95319","#EDB120"]},"legend":{"title":null}},
  "strokeDash":{"field":"m","type":"nominal","scale":{"domain":["RLS","RLSp","MALS"],"range":[[1,0],[6,3],[1.5,1.5]]},"legend":{"title":null}},
  "strokeWidth":{"field":"m","type":"ordinal","scale":{"domain":["RLS","RLSp","MALS"],"range":[1.8,1.8,1.4]},"legend":null}}},
{"width":110,"height":107,
 "transform":[{"filter":"datum.p=='7'"}],"mark":{"type":"line","clip":true},
 "encoding":{
  "x":{"field":"n","type":"quantitative","scale":{"type":"log","domain":[1,1e5],"nice":false},"axis":{"title":"Number of samples","values":[1,10,100,1000,1e4,1e5],"labelExpr":"indexof([0,1,3,5], round(log(datum.value)/LN10)) >= 0 ? '10' + ['⁰','¹','²','³','⁴','⁵','⁶','⁷','⁸','⁹','¹⁰'][abs(round(log(datum.value)/LN10))] : ''"}},
  "y":{"field":"v","type":"quantitative","scale":{"type":"log","domain":[0.038,1070],"nice":false},"axis":{"title":null,"values":[0.1,1,10,100,1000],"labelExpr":"datum.value < 200 ? '10' + (datum.value < 0.5 ? '⁻' : '') + ['⁰','¹','²','³','⁴','⁵','⁶','⁷','⁸','⁹','¹⁰'][abs(round(log(datum.value)/LN10))] : ''"}},
  "color":{"field":"m","type":"nominal","scale":{"domain":["RLS","RLSp","MALS"],"range":["#0072BD","#D95319","#EDB120"]},"legend":{"title":null}},
  "strokeDash":{"field":"m","type":"nominal","scale":{"domain":["RLS","RLSp","MALS"],"range":[[1,0],[6,3],[1.5,1.5]]},"legend":{"title":null}},
  "strokeWidth":{"field":"m","type":"ordinal","scale":{"domain":["RLS","RLSp","MALS"],"range":[1.8,1.8,1.4]},"legend":null}}},
{"width":110,"height":107,
 "layer":[
  {"transform":[{"filter":"datum.p=='8'"}],"mark":{"type":"line","clip":true},
   "encoding":{
    "x":{"field":"n","type":"quantitative","scale":{"type":"log","domain":[1,1e4],"nice":false},"axis":{"title":"Number of samples","values":[1,10,100,1000,1e4],"labelExpr":"round(log(datum.value)/LN10) % 2 == 0 ? '10' + ['⁰','¹','²','³','⁴','⁵','⁶','⁷','⁸','⁹','¹⁰'][abs(round(log(datum.value)/LN10))] : ''"}},
    "y":{"field":"v","type":"quantitative","scale":{"type":"log","domain":[0.038,1070],"nice":false},"axis":{"title":null,"values":[0.1,1,10,100,1000],"labelExpr":"datum.value < 200 ? '10' + (datum.value < 0.5 ? '⁻' : '') + ['⁰','¹','²','³','⁴','⁵','⁶','⁷','⁸','⁹','¹⁰'][abs(round(log(datum.value)/LN10))] : ''"}},
    "color":{"field":"m","type":"nominal","scale":{"domain":["RLS","RLSp","MALS"],"range":["#0072BD","#D95319","#EDB120"]},"legend":{"title":null}},
    "strokeDash":{"field":"m","type":"nominal","scale":{"domain":["RLS","RLSp","MALS"],"range":[[1,0],[6,3],[1.5,1.5]]},"legend":{"title":null}},
    "strokeWidth":{"field":"m","type":"ordinal","scale":{"domain":["RLS","RLSp","MALS"],"range":[1.8,1.8,1.4]},"legend":null}}},
  {"layer":[
    {"data":{"values":[{}]},"mark":{"type":"rect","fill":"white","stroke":"#262626","strokeWidth":0.8},
     "encoding":{
      "x":{"datum":1,"type":"quantitative","scale":{"type":"log","domain":[1,115],"nice":false,"range":[47,83]},"axis":{"orient":"bottom","offset":-14,"title":null,"values":[1,10,100],"grid":false,"ticks":false,"labelFontSize":8,"labelPadding":3,"labelExpr":"'10' + ['⁰','¹','²','³','⁴','⁵','⁶','⁷','⁸','⁹','¹⁰'][abs(round(log(datum.value)/LN10))]"}},
      "x2":{"datum":115},
      "y":{"datum":0.4,"type":"quantitative","scale":{"type":"log","domain":[0.4,1e15],"nice":false,"range":[93,51]},"axis":{"orient":"left","offset":-47,"title":null,"values":[1,1e5,1e10],"grid":false,"ticks":false,"labelFontSize":8,"labelPadding":1,"labelExpr":"'10' + ['⁰','¹','²','³','⁴','⁵','⁶','⁷','⁸','⁹','¹⁰'][abs(round(log(datum.value)/LN10))]"}},
      "y2":{"datum":1e15}}},
    {"transform":[{"filter":"datum.p=='8i'"}],"mark":{"type":"line","clip":true},
     "encoding":{
      "x":{"field":"n","type":"quantitative","scale":{"type":"log","domain":[1,115],"nice":false,"range":[47,83]},"axis":{"orient":"bottom","offset":-14,"title":null,"values":[1,10,100],"grid":false,"ticks":false,"labelFontSize":8,"labelPadding":3,"labelExpr":"'10' + ['⁰','¹','²','³','⁴','⁵','⁶','⁷','⁸','⁹','¹⁰'][abs(round(log(datum.value)/LN10))]"}},
      "y":{"field":"v","type":"quantitative","scale":{"type":"log","domain":[0.4,1e15],"nice":false,"range":[93,51]},"axis":{"orient":"left","offset":-47,"title":null,"values":[1,1e5,1e10],"grid":false,"ticks":false,"labelFontSize":8,"labelPadding":1,"labelExpr":"'10' + ['⁰','¹','²','³','⁴','⁵','⁶','⁷','⁸','⁹','¹⁰'][abs(round(log(datum.value)/LN10))]"}},
      "color":{"field":"m","type":"nominal","scale":{"domain":["RLS","RLSp","MALS"],"range":["#0072BD","#D95319","#EDB120"]},"legend":{"title":null}},
      "strokeDash":{"field":"m","type":"nominal","scale":{"domain":["RLS","RLSp","MALS"],"range":[[1,0],[6,3],[1.5,1.5]]},"legend":{"title":null}},
      "strokeWidth":{"field":"m","type":"ordinal","scale":{"domain":["RLS","RLSp","MALS"],"range":[1.8,1.8,1.4]},"legend":null}}}
  ]}
 ],
 "resolve":{"scale":{"x":"independent","y":"independent"},"axis":{"x":"independent","y":"independent"}}}
],
"config":{
 "font":"Liberation Serif, Times New Roman, DejaVu Serif, serif",
 "view":{"stroke":"#262626","strokeWidth":0.8},
 "axis":{"labelFont":"Liberation Serif, Times New Roman, DejaVu Serif, serif","labelFontSize":11,"labelColor":"#262626","titleFont":"Liberation Serif, Times New Roman, DejaVu Serif, serif","titleFontWeight":"normal","titleColor":"#262626","gridColor":"#e3e3e3","gridWidth":0.8,"domain":false,"tickColor":"#262626","tickSize":-3,"labelPadding":6,"labelOverlap":false,"labelFlush":false,"labelBound":false,"titlePadding":6},
 "axisX":{"titleFontSize":14,"titlePadding":0,"labelPadding":9},
 "axisY":{"titleFontSize":13},
 "title":{"font":"Liberation Serif, Times New Roman, DejaVu Serif, serif","fontSize":13.5,"fontWeight":"normal","color":"#262626","offset":-4},
 "legend":{"orient":"none","legendX":564,"legendY":8,"labelFont":"Liberation Serif, Times New Roman, DejaVu Serif, serif","labelFontSize":10.5,"labelColor":"#262626","symbolType":"M-2.3,0L2.3,0","symbolSize":169,"symbolStrokeWidth":2,"symbolOffset":0,"labelOffset":2,"strokeColor":"#888888","fillColor":"white","padding":2,"rowPadding":0}
}
}
